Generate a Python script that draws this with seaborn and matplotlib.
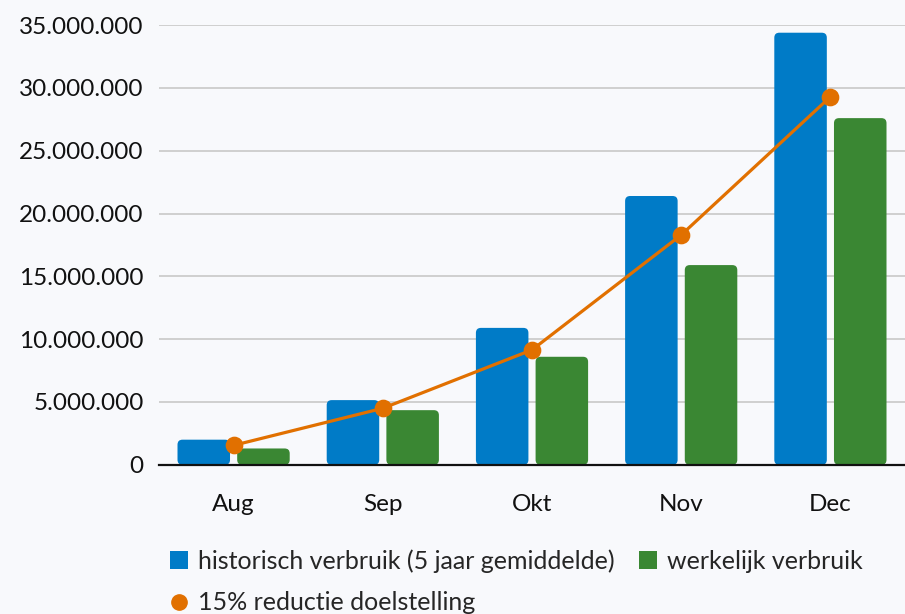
import matplotlib
matplotlib.use("Agg")
import matplotlib.pyplot as plt
import matplotlib.ticker as mticker
from matplotlib.patches import FancyBboxPatch
from matplotlib.lines import Line2D
from matplotlib.patches import Patch
import seaborn as sns
import pandas as pd

# ====================
# DATA
# ====================
months = ["Aug", "Sep", "Okt", "Nov", "Dec"]
historisch = [2_000_000, 5_150_000, 10_900_000, 21_400_000, 34_400_000]
werkelijk = [1_300_000, 4_350_000, 8_600_000, 15_900_000, 27_600_000]
doel = [1_550_000, 4_500_000, 9_150_000, 18_300_000, 29_300_000]

lbl_hist = "historisch verbruik (5 jaar gemiddelde)"
lbl_werk = "werkelijk verbruik"
lbl_doel = "15% reductie doelstelling"

BLUE = "#007BC7"
GREEN = "#3A8733"
ORANGE = "#E17000"
BG = "#F8F9FC"

df = pd.DataFrame({
    "maand": months * 2,
    "waarde": historisch + werkelijk,
    "serie": [lbl_hist] * 5 + [lbl_werk] * 5,
})

# ====================
# STYLE
# ====================
sns.set_style("white")
plt.rcParams["font.family"] = ["Lato", "DejaVu Sans"]

fig = plt.figure(figsize=(9.05, 6.14), dpi=100, facecolor=BG)
ax = fig.add_axes([0.1757, 0.243, 0.8243, 0.716])
ax.set_facecolor(BG)

sns.barplot(data=df, x="maand", y="waarde", hue="serie",
            palette=[BLUE, GREEN], width=0.8, gap=0.12, saturation=1,
            legend=False, ax=ax, zorder=2, edgecolor="none")

ax.set_xlim(-0.5, 4.5)
ax.set_ylim(0, 35_000_000)

# rounded bar corners
fig.canvas.draw()
px_x = ax.transData.transform((1, 0))[0] - ax.transData.transform((0, 0))[0]
px_y = ax.transData.transform((0, 1_000_000))[1] - ax.transData.transform((0, 0))[1]
aspect = (1_000_000 / px_y) / (1 / px_x)
radius = 5 / px_x
bars = list(ax.patches)
for b in bars:
    x, y = b.get_x(), b.get_y()
    w, h = b.get_width(), b.get_height()
    fc = b.get_facecolor()
    b.remove()
    ax.add_patch(FancyBboxPatch((x, y), w, h,
                                boxstyle=f"round,pad=0,rounding_size={radius}",
                                mutation_aspect=aspect, facecolor=fc,
                                edgecolor="none", zorder=2))

sns.pointplot(x=months, y=doel, color=ORANGE, markersize=11,
              linewidth=2.3, ax=ax, zorder=4)
for c in ax.collections:
    c.set_zorder(4)
for l in ax.lines:
    l.set_zorder(4)

# ====================
# AXES
# ====================
ax.yaxis.set_major_locator(mticker.MultipleLocator(5_000_000))
ax.yaxis.set_major_formatter(mticker.FuncFormatter(
    lambda v, p: f"{int(v):,}".replace(",", ".")))
ax.grid(axis="y", color="#CCCCCC", linewidth=1.3, zorder=0)
ax.set_axisbelow(True)
ax.tick_params(axis="y", length=0, pad=11, labelsize=17.5, labelcolor="#111111")

ax.set_xticks(range(5))
ax.set_xticklabels(months)
ax.set_xticks([-0.5, 0.5, 1.5, 2.5, 3.5, 4.5], minor=True)
ax.tick_params(axis="x", which="major", length=0, pad=21, labelsize=17.5,
               labelcolor="#111111")
ax.tick_params(axis="x", which="minor", direction="in", length=8,
               width=1.2, color="#222222")
ax.set_xlabel("")
ax.set_ylabel("")

for s in ["left", "top", "right"]:
    ax.spines[s].set_visible(False)
ax.spines["bottom"].set_color("#111111")
ax.spines["bottom"].set_linewidth(1.6)

# ====================
# LEGEND
# ====================
handles = [
    Patch(facecolor=BLUE, edgecolor="none"),
    Line2D([], [], marker="o", color="none", markerfacecolor=ORANGE,
           markeredgecolor=ORANGE, markersize=11),
    Patch(facecolor=GREEN, edgecolor="none"),
]
labels = [lbl_hist, lbl_doel, lbl_werk]
fig.legend(handles, labels, loc="upper left", bbox_to_anchor=(0.188, 0.106),
           ncol=2, frameon=False, fontsize=18, handlelength=0.7,
           handleheight=0.7, handletextpad=0.4, columnspacing=1.0,
           labelspacing=0.75, borderaxespad=0, borderpad=0)

fig.savefig("out.png", dpi=100, facecolor=BG)
plt.close(fig)
